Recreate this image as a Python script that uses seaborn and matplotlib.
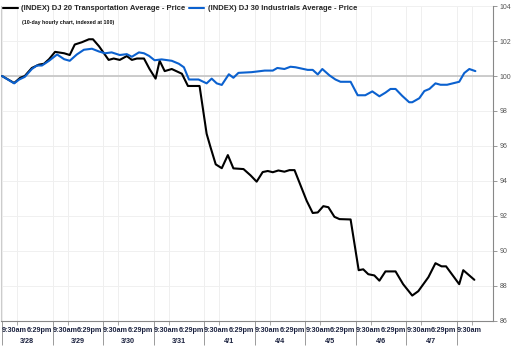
import matplotlib.pyplot as plt
import seaborn as sns
import pandas as pd

# trading days on the x axis (each day is one unit wide)
dates = ['3/28', '3/29', '3/30', '3/31', '4/1', '4/4', '4/5', '4/6', '4/7']
n_days = 10  # last day (4/8) only has its open

# DJ 20 Transportation, indexed at 100
tran_t = [0.00, 0.24, 0.36, 0.45, 0.59, 0.73, 0.83, 0.93, 1.05, 1.23,
          1.34, 1.44, 1.58, 1.72, 1.80, 1.92, 2.11, 2.21, 2.33, 2.47,
          2.57, 2.67, 2.81, 2.92, 3.04, 3.12, 3.22, 3.36, 3.56, 3.68,
          3.91, 4.05, 4.13, 4.23, 4.35, 4.47, 4.58, 4.78, 4.92, 5.04,
          5.16, 5.26, 5.36, 5.47, 5.59, 5.69, 5.79, 6.03, 6.15, 6.25,
          6.36, 6.46, 6.58, 6.68, 6.90, 7.06, 7.15, 7.25, 7.37, 7.47,
          7.59, 7.79, 7.94, 8.12, 8.24, 8.44, 8.58, 8.70, 8.79, 9.05,
          9.13, 9.35]
tran_v = [100.0, 99.6, 99.9, 100.0, 100.46, 100.65, 100.7, 100.96, 101.38, 101.3,
          101.2, 101.8, 101.93, 102.1, 102.1, 101.7, 100.92, 101.0, 100.92, 101.14,
          100.92, 101.0, 101.0, 100.4, 99.85, 100.87, 100.28, 100.4, 100.13, 99.43,
          99.43, 96.7, 95.9, 94.95, 94.73, 95.48, 94.72, 94.68, 94.32, 93.96,
          94.51, 94.57, 94.5, 94.6, 94.53, 94.62, 94.62, 92.87, 92.17, 92.2,
          92.56, 92.5, 91.95, 91.82, 91.8, 88.9, 88.95, 88.67, 88.6, 88.3,
          88.83, 88.83, 88.1, 87.45, 87.7, 88.5, 89.3, 89.12, 89.12, 88.1,
          88.9, 88.35]

# DJ 30 Industrials, indexed at 100
ind_t = [0.00, 0.24, 0.34, 0.45, 0.59, 0.69, 0.79, 0.93, 1.09, 1.23,
         1.34, 1.48, 1.62, 1.78, 1.92, 2.04, 2.17, 2.33, 2.47, 2.57,
         2.71, 2.81, 2.91, 3.02, 3.16, 3.36, 3.50, 3.60, 3.70, 3.89,
         4.05, 4.15, 4.25, 4.35, 4.49, 4.58, 4.68, 4.94, 5.20, 5.36,
         5.45, 5.59, 5.71, 5.81, 6.05, 6.15, 6.25, 6.34, 6.48, 6.60,
         6.70, 6.90, 7.04, 7.19, 7.33, 7.47, 7.59, 7.69, 7.79, 7.92,
         8.06, 8.12, 8.26, 8.36, 8.46, 8.58, 8.68, 8.81, 9.05, 9.15,
         9.25, 9.37]
ind_v = [100.0, 99.58, 99.8, 99.95, 100.4, 100.6, 100.6, 100.87, 101.23, 100.96,
         100.87, 101.23, 101.5, 101.56, 101.4, 101.3, 101.35, 101.2, 101.25, 101.1,
         101.35, 101.3, 101.15, 100.9, 100.95, 100.87, 100.7, 100.5, 99.8, 99.8,
         99.58, 99.85, 99.58, 99.49, 100.1, 99.9, 100.18, 100.22, 100.31, 100.31,
         100.46, 100.4, 100.53, 100.5, 100.35, 100.35, 100.09, 100.4, 100.04, 99.8,
         99.67, 99.67, 98.9, 98.9, 99.12, 98.84, 99.05, 99.26, 99.26, 98.87,
         98.5, 98.5, 98.73, 99.14, 99.26, 99.58, 99.5, 99.5, 99.67, 100.17,
         100.4, 100.28]

tran = pd.DataFrame({'day': tran_t, 'value': tran_v})
ind = pd.DataFrame({'day': ind_t, 'value': ind_v})

sns.set_theme(style='white')
plt.rcParams['font.family'] = ['Liberation Sans', 'DejaVu Sans']

fig = plt.figure(figsize=(5.12, 3.55), dpi=100)
ax = fig.add_axes([0.002, 0.096, 0.961, 0.887])

ax.axhline(100, color='#c8c8c8', lw=1.3, zorder=1)
sns.lineplot(data=tran, x='day', y='value', color='black', lw=1.5, ax=ax,
             label='(INDEX) DJ 20 Transportation Average - Price', zorder=3)
sns.lineplot(data=ind, x='day', y='value', color='#0b61cf', lw=1.5, ax=ax,
             label='(INDEX) DJ 30 Industrials Average - Price', zorder=3)

ax.set_xlim(-0.02, 9.72)
ax.set_ylim(86, 104)
ax.set_xlabel('')
ax.set_ylabel('')

# y axis on the right
ax.yaxis.tick_right()
ax.set_yticks(range(86, 105, 2))
ax.tick_params(axis='y', right=True, left=False, direction='out', length=3,
               width=0.6, color='#888888', labelsize=5, labelcolor='#555555', pad=1.5)

# day separators (long ticks) and 9:30am lines
ax.set_xticks(range(n_days))
ax.set_xticks([d + 0.3 for d in range(n_days)], minor=True)
ax.tick_params(axis='x', which='major', bottom=True, length=17, width=0.7,
               color='#9a9a9a', labelbottom=False)
ax.tick_params(axis='x', which='minor', bottom=True, length=3, width=0.6,
               color='#9a9a9a', labelbottom=False)
ax.grid(axis='x', which='both', color='#efefef', lw=0.7)
ax.grid(axis='y', which='major', color='#f0f0f0', lw=0.7)

ax.spines['top'].set_visible(False)
ax.spines['left'].set_color('#cccccc')
ax.spines['left'].set_linewidth(0.8)
for s in ['bottom', 'right']:
    ax.spines[s].set_color('#888888')
    ax.spines[s].set_linewidth(0.8)

lab = dict(xycoords=('data', 'axes fraction'), textcoords='offset points',
           ha='center', va='center', fontsize=5.2, fontweight='bold', color='#1c2340')
for d in range(n_days):
    ax.annotate('9:30am', xy=(d + 0.25, 0), xytext=(0, -7), **lab)
    if d < len(dates):
        ax.annotate('6:29pm', xy=(d + 0.74, 0), xytext=(0, -7), **lab)
        ax.annotate(dates[d], xy=(d + 0.5, 0), xytext=(0, -14.5), **lab)

ax.legend(loc='upper left', bbox_to_anchor=(3 / 512, 1 - 5 / 355),
          bbox_transform=fig.transFigure, ncol=2, frameon=False,
          prop={'size': 5.5, 'weight': 'bold'}, handlelength=1.9,
          handletextpad=0.5, columnspacing=0.5, borderpad=0, borderaxespad=0)
fig.text(22 / 512, 1 - 22.5 / 355, '(10-day hourly chart, indexed at 100)',
         fontsize=3.8, fontweight='bold', va='center', color='#111111')

fig.savefig('out.png', dpi=100)
